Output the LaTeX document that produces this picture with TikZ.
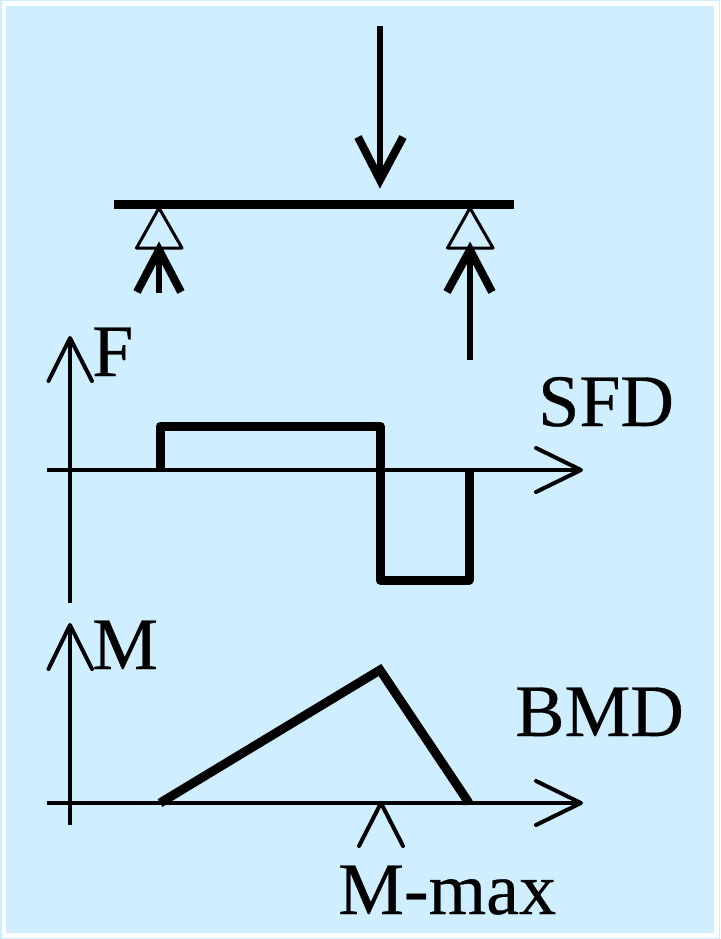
\documentclass[tikz,border=0pt]{standalone}
\usepackage{fontspec}
\setmainfont{Liberation Serif}
\newfontfamily\lblfont[FakeBold=0.4]{Liberation Serif}
\definecolor{bgblue}{RGB}{207,238,255}
\tikzset{
  px/.style={x=1pt,y=-1pt},
  thin line/.style={draw=black,line width=4pt,line join=round,line cap=round},
  axis line/.style={draw=black,line width=3.6pt},
  shaft line/.style={draw=black,line width=6pt},
  head line/.style={draw=black,line width=8pt},
  heavy line/.style={draw=black,line width=9pt,line join=round},
  support/.style={draw=black,line width=3pt,line join=round},
  lbl/.style={font=\fontsize{74}{74}\selectfont\lblfont,inner sep=0pt,anchor=base west,text=black}
}
\begin{document}
\begin{tikzpicture}[px]
\useasboundingbox (0,0) rectangle (720,939);
\fill[bgblue] (0,0) rectangle (720,939);
\draw[white,line width=4.5pt] (3.75,3.75) rectangle (716.25,935.25);
\coordinate (loadT) at (380,26); \coordinate (loadB) at (380,180);
\coordinate (beamL) at (114,204); \coordinate (beamR) at (514,204);
\draw[shaft line] (loadT) -- (loadB);
\draw[head line] (358,137) -- (loadB) -- (403,137);
\draw[line width=9pt] (beamL) -- (beamR);
\draw[support] (159,208) -- (136.5,248) -- (182,248) -- cycle;
\draw[support] (470,208) -- (447.5,248) -- (493,248) -- cycle;
\draw[shaft line] (159,293) -- (159,250);
\draw[head line] (137,292) -- (159,250) -- (181,292);
\draw[shaft line] (470,360) -- (470,250);
\draw[head line] (447,292) -- (470,250) -- (492,292);
% SFD
\draw[axis line] (70,603) -- (70,338);
\draw[thin line] (48.5,381) -- (70,338) -- (92,381);
\draw[axis line] (47,470) -- (581,470);
\draw[thin line] (536,448) -- (581,470) -- (536,492);
\draw[heavy line] (160,470) -- (160,426) -- (380,426) -- (380,580) -- (469,580) -- (469,470);
\node[lbl] (f) at (92,376) {F};
\node[lbl] (sfd) at (538,426) {SFD};
% BMD
\draw[axis line] (70,825) -- (70,625);
\draw[thin line] (48.5,669) -- (70,625) -- (92,669);
\draw[axis line] (47,803) -- (581,803);
\draw[thin line] (536,781) -- (581,803) -- (536,825);
\draw[line width=9pt] (160,803) -- (380,670) -- (469,803);
\draw[thin line] (359,846) -- (381,803) -- (403,846);
\node[lbl] (m) at (92,669) {M};
\node[lbl] (bmd) at (515,736) {BMD};
\node[lbl] (mmax) at (338,914) {M-max};
\end{tikzpicture}
\end{document}
